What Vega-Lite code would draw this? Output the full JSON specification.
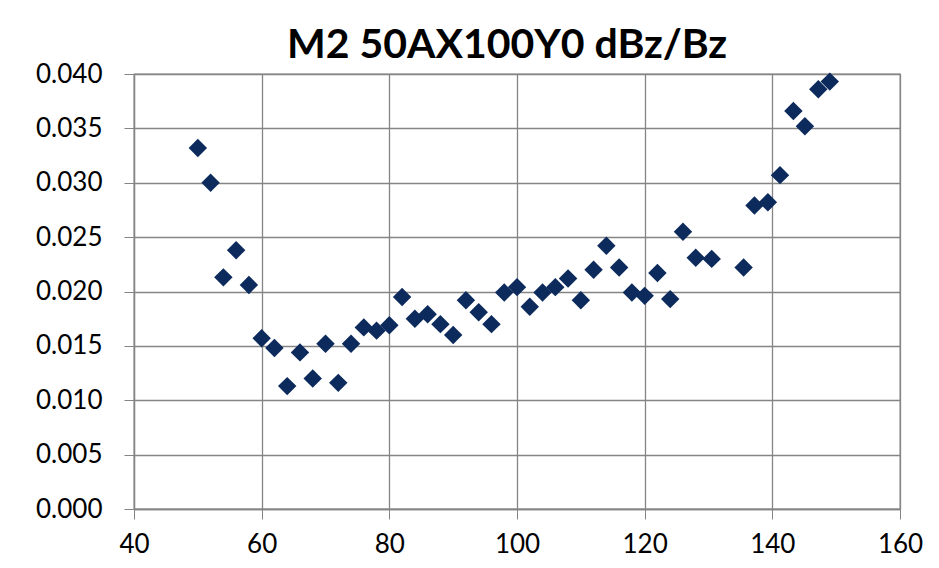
{
  "$schema": "https://vega.github.io/schema/vega-lite/v6.json",
  "width": 766,
  "height": 435,
  "autosize": {"type": "none"},
  "padding": {"left": 134, "top": 74, "right": 39, "bottom": 59},
  "background": "white",
  "title": {
    "text": "M2 50AX100Y0 dBz/Bz",
    "font": "Lato",
    "fontSize": 41,
    "fontWeight": "bold",
    "color": "#000000",
    "anchor": "middle",
    "dx": -10,
    "offset": -6
  },
  "data": {
    "values": [
      {"x": 50, "y": 0.0332},
      {"x": 52, "y": 0.0300},
      {"x": 54, "y": 0.0213},
      {"x": 56, "y": 0.0238},
      {"x": 58, "y": 0.0206},
      {"x": 60, "y": 0.0157},
      {"x": 62, "y": 0.0148},
      {"x": 64, "y": 0.0113},
      {"x": 66, "y": 0.0144},
      {"x": 68, "y": 0.0120},
      {"x": 70, "y": 0.0152},
      {"x": 72, "y": 0.0116},
      {"x": 74, "y": 0.0152},
      {"x": 76, "y": 0.0167},
      {"x": 78, "y": 0.0164},
      {"x": 80, "y": 0.0169},
      {"x": 82, "y": 0.0195},
      {"x": 84, "y": 0.0175},
      {"x": 86, "y": 0.0179},
      {"x": 88, "y": 0.0170},
      {"x": 90, "y": 0.0160},
      {"x": 92, "y": 0.0192},
      {"x": 94, "y": 0.0181},
      {"x": 96, "y": 0.0170},
      {"x": 98, "y": 0.0199},
      {"x": 100, "y": 0.0204},
      {"x": 102, "y": 0.0186},
      {"x": 104, "y": 0.0199},
      {"x": 106, "y": 0.0204},
      {"x": 108, "y": 0.0212},
      {"x": 110, "y": 0.0192},
      {"x": 112, "y": 0.0220},
      {"x": 114, "y": 0.0242},
      {"x": 116, "y": 0.0222},
      {"x": 118, "y": 0.0199},
      {"x": 120, "y": 0.0196},
      {"x": 122, "y": 0.0217},
      {"x": 124, "y": 0.0193},
      {"x": 126, "y": 0.0255},
      {"x": 128, "y": 0.0231},
      {"x": 130.5, "y": 0.0230},
      {"x": 135.5, "y": 0.0222},
      {"x": 137.2, "y": 0.0279},
      {"x": 139.3, "y": 0.0282},
      {"x": 141.2, "y": 0.0307},
      {"x": 143.3, "y": 0.0366},
      {"x": 145.1, "y": 0.0352},
      {"x": 147.2, "y": 0.0386},
      {"x": 149.0, "y": 0.0393}
    ]
  },
  "mark": {"type": "point", "shape": "diamond", "filled": true, "size": 340, "color": "#0c2a5c", "opacity": 1},
  "encoding": {
    "x": {
      "field": "x",
      "type": "quantitative",
      "scale": {"domain": [40, 160], "nice": false, "zero": false},
      "axis": {
        "values": [40, 60, 80, 100, 120, 140, 160],
        "title": null,
        "grid": true,
        "gridColor": "#858585",
        "gridWidth": 1.3,
        "domain": true,
        "domainColor": "#858585",
        "domainWidth": 1.3,
        "ticks": true,
        "tickSize": 10,
        "tickColor": "#858585",
        "labelFont": "Lato",
        "labelFontSize": 26,
        "labelColor": "#000000",
        "labelPadding": 12,
        "labelFlush": false
      }
    },
    "y": {
      "field": "y",
      "type": "quantitative",
      "scale": {"domain": [0, 0.04], "nice": false},
      "axis": {
        "values": [0, 0.005, 0.01, 0.015, 0.02, 0.025, 0.03, 0.035, 0.04],
        "format": ".3f",
        "title": null,
        "grid": true,
        "gridColor": "#858585",
        "gridWidth": 1.3,
        "domain": true,
        "domainColor": "#858585",
        "domainWidth": 1.3,
        "ticks": true,
        "tickSize": 10,
        "tickColor": "#858585",
        "labelFont": "Lato",
        "labelFontSize": 26,
        "labelColor": "#000000",
        "labelPadding": 22,
        "labelFlush": false
      }
    }
  },
  "config": {
    "view": {"stroke": "#858585", "strokeWidth": 1.3}
  }
}
